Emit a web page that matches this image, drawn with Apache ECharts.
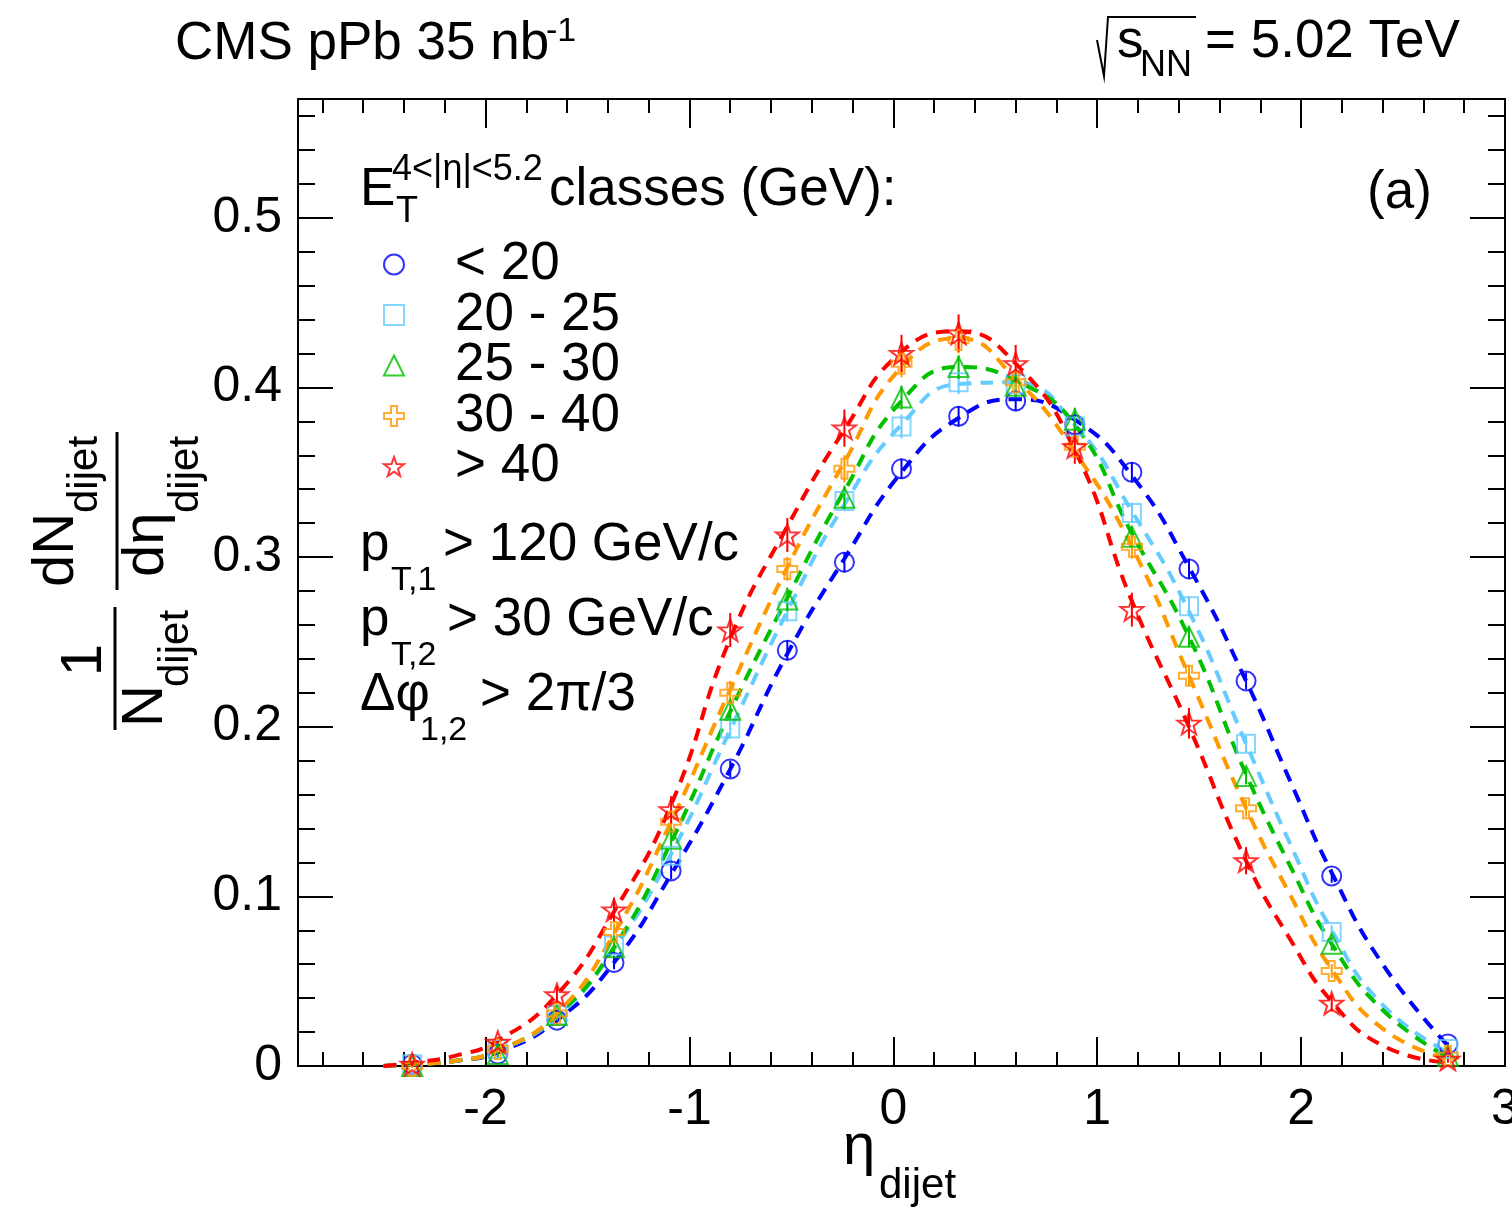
<!DOCTYPE html>
<html><head><meta charset="utf-8">
<script src="https://cdn.jsdelivr.net/npm/echarts@6/dist/echarts.min.js"></script>
<style>html,body{margin:0;padding:0;background:#fff}#c{width:1512px;height:1214px}</style>
</head><body><div id="c"></div>
<script>
// ---- data ----
const classes = ['< 20', '20 - 25', '25 - 30', '30 - 40', '> 40'];
const eta = [-2.36, -1.94, -1.65, -1.37, -1.09, -0.80, -0.52, -0.24, 0.04, 0.32, 0.60, 0.89, 1.17, 1.45, 1.73, 2.15, 2.72];
const valLt20  = [0.001, 0.007, 0.027, 0.061, 0.115, 0.175, 0.245, 0.297, 0.352, 0.383, 0.392, 0.378, 0.350, 0.293, 0.227, 0.112, 0.013];
const val20_25 = [0.001, 0.010, 0.030, 0.071, 0.124, 0.199, 0.268, 0.333, 0.377, 0.403, 0.402, 0.377, 0.326, 0.271, 0.190, 0.079, 0.010];
const val25_30 = [0.000, 0.007, 0.030, 0.070, 0.134, 0.210, 0.275, 0.335, 0.394, 0.412, 0.401, 0.381, 0.312, 0.253, 0.171, 0.072, 0.006];
const val30_40 = [0.000, 0.010, 0.031, 0.079, 0.144, 0.220, 0.293, 0.352, 0.414, 0.428, 0.403, 0.365, 0.306, 0.230, 0.152, 0.056, 0.006];
const valGt40  = [0.001, 0.014, 0.042, 0.092, 0.151, 0.257, 0.313, 0.376, 0.420, 0.432, 0.414, 0.365, 0.269, 0.202, 0.121, 0.037, 0.004];
const errLt20  = [0.001, 0.002, 0.003, 0.004, 0.005, 0.005, 0.006, 0.006, 0.006, 0.006, 0.006, 0.006, 0.006, 0.006, 0.005, 0.004, 0.001];
const err20_25 = [0.001, 0.002, 0.003, 0.004, 0.005, 0.006, 0.006, 0.006, 0.007, 0.007, 0.007, 0.006, 0.006, 0.006, 0.005, 0.004, 0.001];
const err25_30 = [0.001, 0.002, 0.003, 0.004, 0.005, 0.006, 0.007, 0.007, 0.007, 0.007, 0.007, 0.007, 0.006, 0.006, 0.005, 0.004, 0.001];
const err30_40 = [0.001, 0.002, 0.003, 0.005, 0.006, 0.007, 0.007, 0.008, 0.008, 0.008, 0.008, 0.007, 0.007, 0.006, 0.005, 0.004, 0.001];
const errGt40  = [0.001, 0.003, 0.005, 0.007, 0.008, 0.010, 0.010, 0.011, 0.011, 0.011, 0.011, 0.010, 0.010, 0.009, 0.008, 0.005, 0.002];
// fitted curves (dashed)
const fitEta   = [-2.50, -2.36, -2.15, -1.94, -1.65, -1.37, -1.09, -0.80, -0.52, -0.24, 0.04, 0.32, 0.60, 0.89, 1.17, 1.45, 1.73, 1.95, 2.15, 2.40, 2.72];
const fitLt20  = [0.000, 0.001, 0.003, 0.008, 0.027, 0.061, 0.113, 0.175, 0.243, 0.299, 0.350, 0.382, 0.393, 0.381, 0.348, 0.294, 0.227, 0.167, 0.114, 0.060, 0.012];
const fit20_25 = [0.000, 0.001, 0.003, 0.009, 0.029, 0.069, 0.125, 0.198, 0.268, 0.331, 0.378, 0.402, 0.403, 0.378, 0.327, 0.268, 0.190, 0.130, 0.080, 0.036, 0.008];
const fit25_30 = [0.000, 0.001, 0.003, 0.009, 0.030, 0.070, 0.132, 0.209, 0.276, 0.339, 0.392, 0.412, 0.404, 0.378, 0.314, 0.253, 0.172, 0.117, 0.072, 0.033, 0.005];
const fit30_40 = [0.000, 0.001, 0.003, 0.009, 0.031, 0.078, 0.144, 0.222, 0.294, 0.356, 0.412, 0.429, 0.405, 0.362, 0.306, 0.230, 0.152, 0.100, 0.057, 0.022, 0.004];
const fitGt40  = [0.000, 0.002, 0.006, 0.015, 0.042, 0.091, 0.154, 0.252, 0.318, 0.375, 0.421, 0.433, 0.414, 0.363, 0.274, 0.200, 0.121, 0.074, 0.038, 0.012, 0.002];
const xTickLabels = [-2, -1, 0, 1, 2, 3];
const yTickLabels = [0, 0.1, 0.2, 0.3, 0.4, 0.5];

// ---- styling ----
const FONT = '"Liberation Sans", Arial, Helvetica, sans-serif';
const colors = ['#0000ff', '#66ccff', '#00c000', '#ff9900', '#ff0000'];
const CROSS = 'path://M7,0L13,0L13,7L20,7L20,13L13,13L13,20L7,20L7,13L0,13L0,7L7,7Z';
const STAR = 'path://M10,0L12.35,6.76L19.51,6.91L13.8,11.24L15.88,18.09L10,14L4.12,18.09L6.2,11.24L0.49,6.91L7.65,6.76Z';
const symbols = ['circle', 'rect', 'triangle', CROSS, STAR];
const sizes = [19, 18, 20, 20, 23];
const vals = [valLt20, val20_25, val25_30, val30_40, valGt40];
const errs = [errLt20, err20_25, err25_30, err30_40, errGt40];
const fits = [fitLt20, fit20_25, fit25_30, fit30_40, fitGt40];

const series = [];
classes.forEach((name, k) => {
  series.push({
    type: 'line', name: 'fit ' + name, data: fitEta.map((x, i) => [x, fits[k][i]]),
    smooth: 0.5, symbol: 'none', showSymbol: false, silent: true,
    lineStyle: { color: colors[k], width: 4, type: [13, 9] }, z: 3, animation: false
  });
});
classes.forEach((name, k) => {
  series.push({
    type: 'custom', name: 'err ' + name, data: eta.map((x, i) => [x, vals[k][i], errs[k][i]]),
    encode: { x: 0, y: 1 }, silent: true, z: 4, animation: false,
    renderItem: (params, api) => {
      const x = api.value(0), y = api.value(1), e = api.value(2);
      const p1 = api.coord([x, y - e]), p2 = api.coord([x, y + e]);
      return { type: 'line', shape: { x1: p1[0], y1: p1[1], x2: p2[0], y2: p2[1] },
               style: { stroke: colors[k], lineWidth: 2 } };
    }
  });
});
classes.forEach((name, k) => {
  series.push({
    type: 'scatter', name: name, data: eta.map((x, i) => [x, vals[k][i]]),
    symbol: symbols[k], symbolSize: sizes[k], symbolKeepAspect: true,
    itemStyle: { color: 'rgba(0,0,0,0)', borderColor: colors[k], borderWidth: 2 }, z: 5, animation: false
  });
});

function axisCommon(extra) {
  return Object.assign({
    type: 'value',
    axisLine: { show: true, onZero: false, lineStyle: { color: '#000', width: 2 } },
    splitLine: { show: false },
    minorSplitLine: { show: false },
  }, extra);
}
const xCommon = { min: -2.92, max: 3, splitNumber: 5 };
const yCommon = { min: 0, max: 0.57, splitNumber: 5 };

const xAxis = [
  axisCommon(Object.assign({}, xCommon, {
    position: 'bottom',
    axisTick: { inside: true, length: 29, lineStyle: { color: '#000', width: 2 } },
    minorTick: { show: true, splitNumber: 5, length: 14, lineStyle: { color: '#000', width: 2 } },
    axisLabel: { fontSize: 50, fontFamily: FONT, color: '#000', margin: 19,
                 customValues: xTickLabels, formatter: v => String(v) }
  })),
  axisCommon(Object.assign({}, xCommon, {
    position: 'top',
    axisTick: { inside: true, length: 29, lineStyle: { color: '#000', width: 2 } },
    minorTick: { show: true, splitNumber: 5, length: 14, lineStyle: { color: '#000', width: 2 } },
    axisLabel: { show: false }
  }))
];
const yAxis = [
  axisCommon(Object.assign({}, yCommon, {
    position: 'left',
    axisTick: { inside: true, length: 35, lineStyle: { color: '#000', width: 2 } },
    minorTick: { show: true, splitNumber: 5, length: 17, lineStyle: { color: '#000', width: 2 } },
    axisLabel: { fontSize: 50, fontFamily: FONT, color: '#000', margin: 16,
                 customValues: yTickLabels, formatter: v => String(v) }
  })),
  axisCommon(Object.assign({}, yCommon, {
    position: 'right',
    axisTick: { inside: true, length: 35, lineStyle: { color: '#000', width: 2 } },
    minorTick: { show: true, splitNumber: 5, length: 17, lineStyle: { color: '#000', width: 2 } },
    axisLabel: { show: false }
  }))
];

function T(text, x, y, size, extra) {
  return Object.assign({
    type: 'text', x: x, y: y, silent: true, z: 10,
    style: Object.assign({ text: text, fontSize: size, fontFamily: FONT, fill: '#000',
                           align: 'left', verticalAlign: 'middle' }, (extra || {}))
  });
}
const H = 1214;
// rotated y-axis title: local x = H - screenY, local y = screenX
const yTitle = {
  type: 'group', x: 0, y: H, rotation: Math.PI / 2, silent: true, z: 10,
  children: [
    T('1', H - 660, 85, 58, { align: 'center' }),
    T('N', H - 727, 146, 58),
    T('dijet', H - 687, 176, 42),
    T('dN', H - 587, 57, 58),
    T('dijet', H - 513, 85, 42),
    T('d\u03b7', H - 577, 147, 58),
    T('dijet', H - 513, 186, 42)
  ]
};

const graphic = [
  T('CMS pPb 35 nb', 175, 44, 53),
  T('-1', 546, 32, 34),
  { type: 'polyline', silent: true, shape: { points: [[1097, 40], [1104, 76], [1108, 17], [1196, 17]] },
    style: { stroke: '#000', lineWidth: 2, fill: null } },
  T('s', 1117, 42, 53),
  T('NN', 1140, 66, 36),
  T('= 5.02 TeV', 1205, 42, 53),
  T('E', 360, 190, 53),
  T('4<|\u03b7|<5.2', 392, 170, 36),
  T('T', 396, 212, 36),
  T('classes (GeV):', 549, 190, 53),
  T('(a)', 1367, 193, 53),
  T('p', 360, 545, 53),
  T('T,1', 391, 581, 34),
  T('> 120 GeV/c', 443, 545, 53),
  T('p', 360, 620, 53),
  T('T,2', 391, 656, 34),
  T('> 30 GeV/c', 447, 620, 53),
  T('\u0394\u03c6', 360, 695, 53),
  T('1,2', 420, 731, 34),
  T('> 2\u03c0/3', 480, 695, 53),
  T('\u03b7', 843, 1148, 58),
  T('dijet', 879, 1186, 42),
  yTitle,
  { type: 'line', silent: true, shape: { x1: 117, y1: 432, x2: 117, y2: 590 }, style: { stroke: '#000', lineWidth: 3 } },
  { type: 'line', silent: true, shape: { x1: 115, y1: 607, x2: 115, y2: 730 }, style: { stroke: '#000', lineWidth: 3 } }
];

const legend = {
  orient: 'vertical', left: 378, top: 233, itemGap: -2.5, itemWidth: 20, itemHeight: 20,
  selectedMode: false,
  textStyle: { fontSize: 53, fontFamily: FONT, color: '#000', lineHeight: 50, padding: [0, 0, 0, 46] },
  data: classes.map((name, k) => ({
    name: name, icon: symbols[k],
    itemStyle: { color: 'rgba(0,0,0,0)', borderColor: colors[k], borderWidth: 2 }
  }))
};

const chart = echarts.init(document.getElementById('c'), null, { renderer: 'canvas' });
chart.setOption({
  backgroundColor: '#fff',
  animation: false,
  grid: { left: 298, right: 7, top: 99, bottom: 148, containLabel: false, outerBoundsMode: 'none' },
  xAxis: xAxis, yAxis: yAxis,
  legend: legend,
  series: series,
  graphic: graphic
});
</script></body></html>
